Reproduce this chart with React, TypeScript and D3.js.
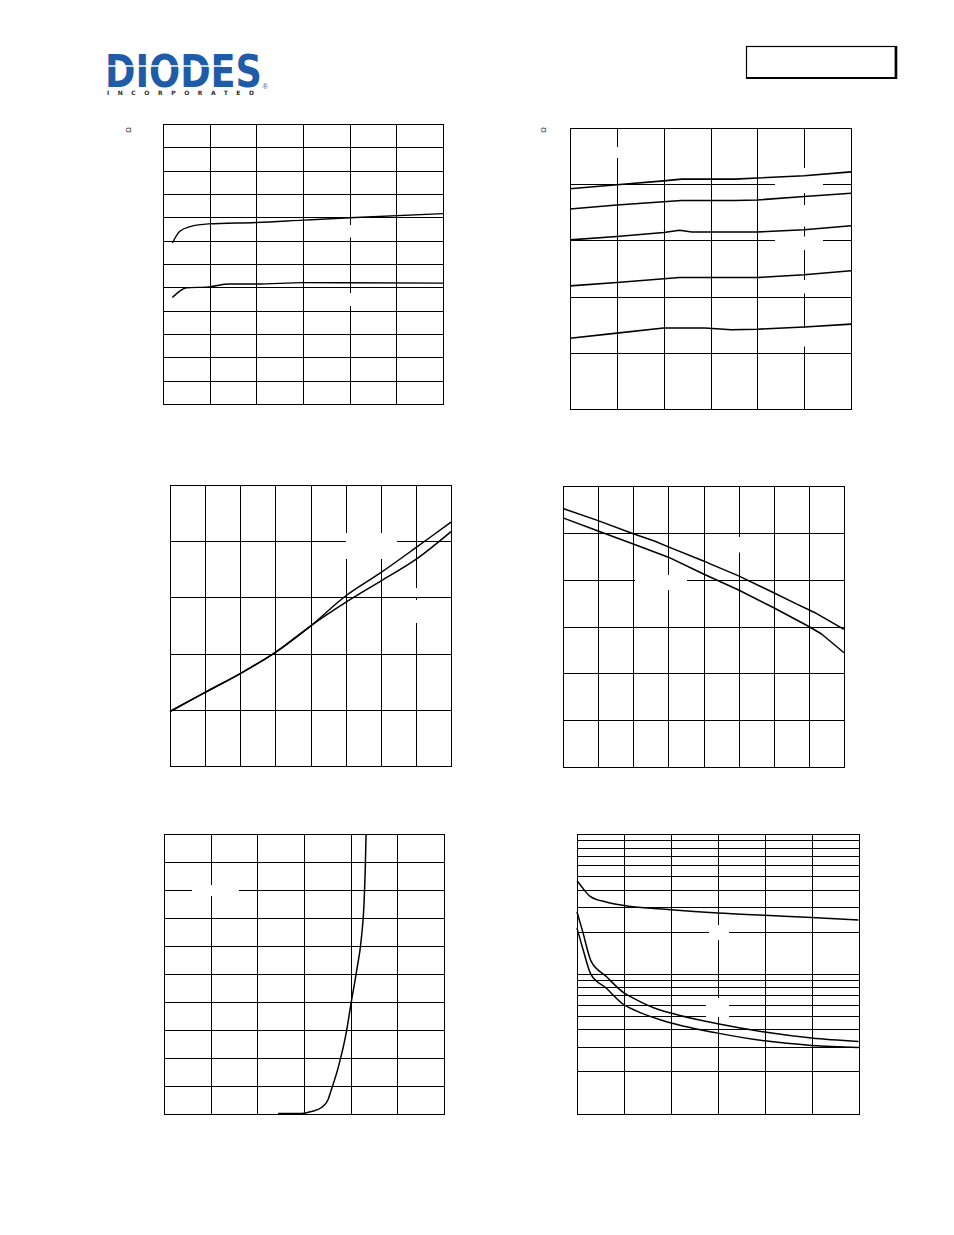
import React from "react";
import * as d3 from "d3";

// ---------- data ----------
// Chart 1: on-resistance (mOhm) vs drain current (A)
const c1XDomain = [0, 30];
const c1YDomain = [0, 60];
const c1XTicks = [0, 5, 10, 15, 20, 25, 30];
const c1YTicks = [0, 5, 10, 15, 20, 25, 30, 35, 40, 45, 50, 55, 60];
const c1aX = [1, 1.8, 2.9, 4.9, 10, 15, 20, 30];
const c1aY = [34.5, 37.0, 38.0, 38.6, 38.9, 39.4, 39.9, 40.8];
const c1bX = [1, 1.8, 2.5, 4.9, 7.1, 10, 15, 30];
const c1bY = [22.8, 24.2, 24.9, 25.1, 25.7, 25.7, 26.0, 25.9];

// Chart 2: on-resistance (mOhm) vs drain current (A), five gate voltages
const c2XDomain = [0, 30];
const c2YDomain = [0, 50];
const c2XTicks = [0, 5, 10, 15, 20, 25, 30];
const c2YTicks = [0, 10, 20, 30, 40, 50];
const c2s1X = [0, 5, 10, 11.9, 17.6, 20, 25, 30];
const c2s1Y = [39.2, 39.9, 40.6, 40.9, 40.9, 41.1, 41.5, 42.2];
const c2s2X = [0, 5, 11.9, 17.6, 20, 25, 30];
const c2s2Y = [35.6, 36.3, 37.1, 37.1, 37.2, 37.8, 38.4];
const c2s3X = [0, 5, 10, 11.7, 13.0, 20, 25, 30];
const c2s3Y = [30.1, 30.7, 31.4, 31.8, 31.5, 31.5, 31.9, 32.6];
const c2s4X = [0, 5, 11.7, 20, 25, 30];
const c2s4Y = [21.9, 22.5, 23.4, 23.4, 23.9, 24.6];
const c2s5X = [0, 5, 10, 14.4, 17.2, 20, 25, 30];
const c2s5Y = [12.6, 13.5, 14.4, 14.4, 14.1, 14.2, 14.6, 15.1];

// Chart 3: normalized on-resistance vs junction temperature
const c3XDomain = [-50, 150];
const c3YDomain = [0.6, 1.6];
const c3XTicks = [-50, -25, 0, 25, 50, 75, 100, 125, 150];
const c3YTicks = [0.6, 0.8, 1.0, 1.2, 1.4, 1.6];
const c3aX = [-50, -25, 0, 16, 25, 50, 75, 100, 125, 150];
const c3aY = [0.794, 0.862, 0.929, 0.976, 1.004, 1.098, 1.205, 1.288, 1.377, 1.468];
const c3bX = [-50, -25, 0, 16, 25, 50, 75, 100, 125, 150];
const c3bY = [0.794, 0.862, 0.929, 0.976, 1.004, 1.098, 1.182, 1.258, 1.335, 1.434];

// Chart 4: gate threshold voltage (V) vs junction temperature
const c4XDomain = [-50, 150];
const c4YDomain = [0, 3];
const c4XTicks = [-50, -25, 0, 25, 50, 75, 100, 125, 150];
const c4YTicks = [0, 0.5, 1, 1.5, 2, 2.5, 3];
const c4aX = [-50, -25, 0, 15.5, 25, 50, 56, 75, 100, 115, 129, 150];
const c4aY = [2.76, 2.63, 2.49, 2.41, 2.35, 2.2, 2.16, 2.04, 1.86, 1.75, 1.65, 1.47];
const c4bX = [-50, -25, 0, 25, 50, 75, 100, 125, 134, 150];
const c4bY = [2.66, 2.52, 2.38, 2.24, 2.06, 1.89, 1.7, 1.5, 1.42, 1.22];

// Chart 5: source current (A) vs source-drain voltage (V)
const c5XDomain = [0, 1.2];
const c5YDomain = [0, 20];
const c5XTicks = [0, 0.2, 0.4, 0.6, 0.8, 1.0, 1.2];
const c5YTicks = [0, 2, 4, 6, 8, 10, 12, 14, 16, 18, 20];
const c5X = [0.489, 0.589, 0.632, 0.675, 0.703, 0.717, 0.746, 0.782, 0.803, 0.825, 0.846, 0.857, 0.863, 0.866];
const c5Y = [0, 0, 0.14, 0.43, 0.98, 1.7, 3.25, 5.87, 8.02, 10.16, 12.56, 14.94, 17.8, 20];

// Chart 6: capacitance (pF, log) vs drain-source voltage (V)
const c6XDomain = [0, 30];
const c6YDomain = [100, 10000];
const c6XTicks = [0, 5, 10, 15, 20, 25, 30];
const c6aX = [0, 0.6, 1.4, 3.1, 5, 10, 15, 20, 25, 30];
const c6aY = [4630, 4110, 3580, 3260, 3080, 2870, 2720, 2620, 2530, 2420];
const c6bX = [0, 0.6, 1.5, 3.1, 5, 6, 8.1, 10, 15, 20, 25, 30];
const c6bY = [2770, 2010, 1230, 960, 730, 670, 574, 523, 439, 383, 347, 328];
const c6cX = [0, 0.6, 1.5, 3.1, 5, 6.3, 9.2, 15, 20, 25, 30];
const c6cY = [2120, 1530, 984, 790, 600, 543, 461, 376, 331, 307, 297];

// ---------- helpers ----------
type Series = { x: number[]; y: number[] };
type Box = [number, number, number, number]; // local x, y, w, h

function logGrid(lo: number, hi: number): number[] {
  const out: number[] = [];
  for (let d = lo; d < hi; d *= 10) {
    for (let m = 1; m < 10; m++) out.push(d * m);
  }
  out.push(hi);
  return out;
}

function Chart(props: {
  x0: number; y0: number; w: number; h: number;
  xDomain: number[]; yDomain: number[]; log?: boolean;
  xTicks: number[]; yTicks: number[];
  series: Series[]; boxes: Box[]; curve?: any; sw?: number;
}) {
  const { x0, y0, w, h, xDomain, yDomain, log, xTicks, yTicks, series, boxes } = props;
  const xs = d3.scaleLinear().domain(xDomain).range([0, w]);
  const ys = (log ? d3.scaleLog() : d3.scaleLinear()).domain(yDomain).range([h, 0]);
  const line = d3
    .line<[number, number]>()
    .x((d) => xs(d[0]))
    .y((d) => ys(d[1]))
    .curve(props.curve || d3.curveMonotoneX);
  const px = (v: number) => Math.round(v) + 0.5;
  return (
    <g transform={`translate(${x0},${y0})`}>
      <g stroke="#000" strokeWidth={1} shapeRendering="crispEdges">
        {xTicks.slice(1, -1).map((t, i) => (
          <line key={"v" + i} x1={px(xs(t))} x2={px(xs(t))} y1={0} y2={h} />
        ))}
        {yTicks.slice(1, -1).map((t, i) => (
          <line key={"h" + i} x1={0} x2={w} y1={px(ys(t) as number)} y2={px(ys(t) as number)} />
        ))}
        <rect x={0.5} y={0.5} width={Math.round(w)} height={Math.round(h)} fill="none" />
      </g>
      {boxes.map((b, i) => (
        <rect key={"b" + i} x={b[0]} y={b[1]} width={b[2]} height={b[3]} fill="#fff" />
      ))}
      {series.map((s, i) => (
        <path
          key={"s" + i}
          d={line(s.x.map((v, j) => [v, s.y[j]] as [number, number])) || ""}
          fill="none"
          stroke="#000"
          strokeWidth={props.sw || 1.5}
          strokeLinejoin="round"
        />
      ))}
    </g>
  );
}

export default function App() {
  return (
    <svg
      width={954}
      height={1235}
      style={{ position: "absolute", left: 0, top: 0, display: "block", background: "#fff" }}
      fontFamily="Liberation Sans, Arial, sans-serif"
    >
      <rect x={0} y={0} width={954} height={1235} fill="#fff" />
      {/* logo */}
      <text
        x={105}
        y={87}
        fontFamily="DejaVu Sans"
        fontWeight="bold"
        fontSize={44}
        fill="#1e5ca8"
        textLength={157}
        lengthAdjust="spacingAndGlyphs"
      >
        DIODES
      </text>
      <line x1={106} x2={222} y1={66} y2={66} stroke="#fff" strokeWidth={1.3} />
      <text
        x={107}
        y={94.5}
        fontFamily="DejaVu Sans"
        fontWeight="bold"
        fontSize={6}
        fill="#2a2a2a"
        textLength={147}
        lengthAdjust="spacing"
      >
        INCORPORATED
      </text>
      <text x={262.5} y={89} fontSize={7} fill="#1e5ca8">®</text>

      {/* header box */}
      <rect x={746.5} y={46.5} width={149} height={31.5} fill="none" stroke="#000" strokeWidth={1.2} />
      <line x1={896} x2={896} y1={46} y2={79} stroke="#000" strokeWidth={2.6} />
      <line x1={746} x2={897} y1={78} y2={78} stroke="#000" strokeWidth={1.8} />

      {/* axis unit fragments */}
      <text x={131} y={130} fontSize={7.5} textAnchor="middle" transform="rotate(-90,131,130)" fill="#333">Ω</text>
      <text x={546} y={130} fontSize={7.5} textAnchor="middle" transform="rotate(-90,546,130)" fill="#333">Ω</text>

      <Chart
        x0={163} y0={124} w={280} h={280}
        xDomain={c1XDomain} yDomain={c1YDomain} xTicks={c1XTicks} yTicks={c1YTicks}
        series={[{ x: c1aX, y: c1aY }, { x: c1bX, y: c1bY }]}
        boxes={[[184, 101, 6, 12.5], [184, 169, 6, 13]]}
        sw={1.4}
      />
      <Chart
        x0={570} y0={128} w={281} h={281}
        xDomain={c2XDomain} yDomain={c2YDomain} xTicks={c2XTicks} yTicks={c2YTicks}
        series={[
          { x: c2s1X, y: c2s1Y },
          { x: c2s2X, y: c2s2Y },
          { x: c2s3X, y: c2s3Y },
          { x: c2s4X, y: c2s4Y },
          { x: c2s5X, y: c2s5Y },
        ]}
        boxes={[
          [44, 19, 6, 11],
          [205, 40, 48, 25],
          [205, 77, 48, 21.5],
          [205, 108.5, 48, 13.5],
          [205, 152, 48, 13.5],
          [205, 200, 48, 18.5],
        ]}
        curve={d3.curveLinear}
        sw={1.6}
      />
      <Chart
        x0={170} y0={485} w={281} h={281}
        xDomain={c3XDomain} yDomain={c3YDomain} xTicks={c3XTicks} yTicks={c3YTicks}
        series={[{ x: c3aX, y: c3aY }, { x: c3bX, y: c3bY }]}
        boxes={[[176, 48, 51, 26], [243, 103, 7, 9], [243, 115, 7, 23]]}
        curve={d3.curveCatmullRom.alpha(0.5)}
        sw={1.5}
      />
      <Chart
        x0={563} y0={486} w={281} h={281}
        xDomain={c4XDomain} yDomain={c4YDomain} xTicks={c4XTicks} yTicks={c4YTicks}
        series={[{ x: c4aX, y: c4aY }, { x: c4bX, y: c4bY }]}
        boxes={[[72, 89, 52, 15], [172, 51, 7, 15.5]]}
        curve={d3.curveLinear}
        sw={1.5}
      />
      <Chart
        x0={164} y0={834} w={280} h={279.5}
        xDomain={c5XDomain} yDomain={c5YDomain} xTicks={c5XTicks} yTicks={c5YTicks}
        series={[{ x: c5X, y: c5Y }]}
        boxes={[[28, 51, 47, 11]]}
        sw={1.5}
      />
      <Chart
        x0={577} y0={834} w={281.5} h={279.5}
        xDomain={c6XDomain} yDomain={c6YDomain} log
        xTicks={c6XTicks} yTicks={logGrid(100, 10000)}
        series={[{ x: c6aX, y: c6aY }, { x: c6bX, y: c6bY }, { x: c6cX, y: c6cY }]}
        boxes={[[132, 91, 20, 15], [129, 164, 23, 19]]}
        sw={1.5}
      />
    </svg>
  );
}
